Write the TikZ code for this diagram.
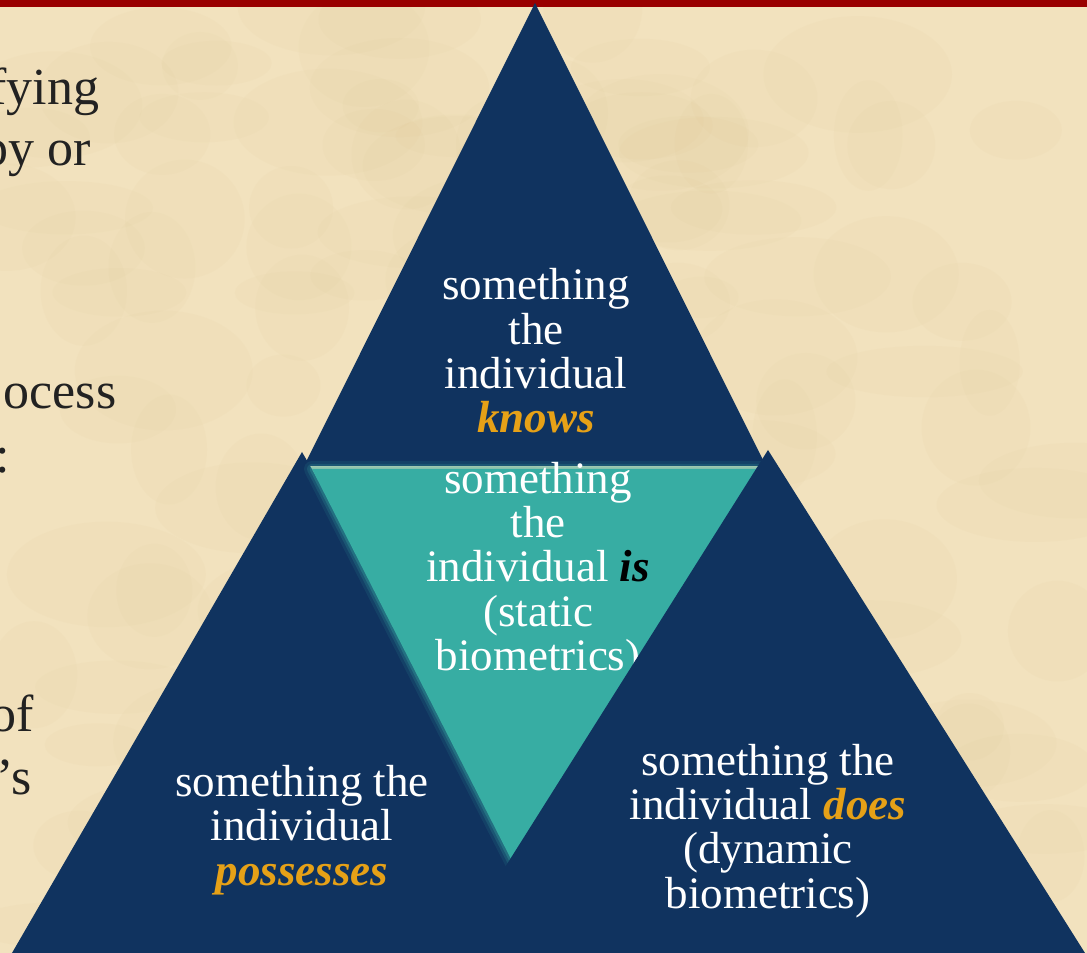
\documentclass[tikz,border=0pt]{standalone}
\usepackage{fontspec}
\setmainfont{Liberation Serif}
\definecolor{parchment}{HTML}{F2E2BE}
\definecolor{stain}{HTML}{D9BF88}
\definecolor{barred}{HTML}{990000}
\definecolor{navy}{HTML}{10335F}
\definecolor{tealtri}{HTML}{37ADA3}
\definecolor{gold}{HTML}{E6A117}
\definecolor{ink}{HTML}{222222}
\tikzset{
	tritext/.style={text=white, align=center, inner sep=0pt, font=\fontsize{12.8}{12.6}\selectfont},
	sidetext/.style={text=ink, anchor=base east, inner sep=0pt, font=\fontsize{14.8}{17}\selectfont},
}
\newcommand{\keyw}[1]{\textcolor{gold}{\textbf{\textit{#1}}}}
\begin{document}
\begin{tikzpicture}[x=1cm, y=-1cm]
	\useasboundingbox (0, 0) rectangle (10.87, 9.53);
	\fill[parchment] (0, 0) rectangle (10.87, 9.53);
	% mottled paper
	\pgfmathsetseed{7}
	\foreach \i in {1,...,140}
		\fill[stain, opacity=0.06] ({10.87*rnd}, {9.53*rnd}) ellipse ({0.3+0.7*rnd} and {0.2+0.4*rnd});
	\fill[barred] (0, 0) rectangle (10.87, 0.07);

	% text of the slide, cut off by the triangles
	\node[sidetext] (fying) at (1.00, 1.05) {fying};
	\node[sidetext] (pyor) at (0.92, 1.66) {py or};
	\node[sidetext] (ocess) at (1.17, 4.09) {ocess};
	\node[sidetext] (colon) at (0.11, 4.73) {:};
	\node[sidetext] (of) at (0.35, 7.32) {of};
	\node[sidetext] (aps) at (0.32, 7.95) {’s};

	% top and left triangles
	\fill[navy] (5.35, 0.03) -- (3.04, 4.66) -- (7.66, 4.66) -- cycle;
	\fill[navy] (3.02, 4.52) -- (0.12, 9.53) -- (5.92, 9.53) -- cycle;
	\node[tritext] (knows) at (5.36, 3.51) {something\\the\\individual\\\keyw{knows}};
	\node[tritext] (possesses) at (3.02, 8.30) {something the\\individual\\\keyw{possesses}};

	% middle triangle with its soft edge
	\foreach \w/\o in {0.16/0.12, 0.10/0.2, 0.05/0.3}
		\draw[tealtri, line width=\w cm, opacity=\o, line join=round] (3.12, 4.69) -- (7.60, 4.69) -- (5.36, 9.08) -- cycle;
	\fill[tealtri] (3.12, 4.69) -- (7.60, 4.69) -- (5.36, 9.08) -- cycle;
	\node[tritext] (is) at (5.38, 5.71) {something\\the\\individual \textcolor{black}{\textbf{\textit{is}}}\\(static\\biometrics)};

	% right triangle
	\fill[navy] (7.68, 4.50) -- (4.51, 9.53) -- (10.85, 9.53) -- cycle;
	\node[tritext] (does) at (7.68, 8.31) {something the\\individual \keyw{does}\\(dynamic\\biometrics)};
\end{tikzpicture}
\end{document}
